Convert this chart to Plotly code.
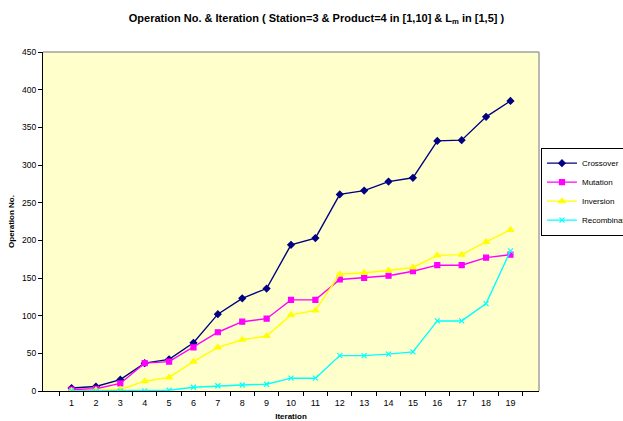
import plotly.graph_objects as go

iterations = [str(i) for i in range(1, 20)]
crossover = [4, 6, 15, 37, 42, 64, 102, 123, 136, 194, 203, 261, 266, 278, 283, 332, 333, 364, 385]
mutation = [2, 3, 10, 37, 39, 58, 78, 92, 96, 121, 121, 148, 150, 153, 159, 167, 167, 177, 181]
inversion = [0, 1, 2, 13, 18, 39, 58, 68, 73, 101, 107, 155, 157, 160, 164, 180, 181, 198, 214]
recombination = [0, 0, 0, 0, 1, 5, 7, 8, 9, 17, 17, 47, 47, 49, 52, 93, 93, 116, 186]

series = [
    ("Crossover", crossover, "#000080", "diamond", 5),
    ("Mutation", mutation, "#FF00FF", "square", 5),
    ("Inversion", inversion, "#FFFF00", "triangle-up", 6),
    ("Recombination", recombination, "#00FFFF", "x-thin", 5),
]

fig = go.Figure()
for name, vals, col, sym, sz in series:
    fig.add_trace(go.Scatter(
        x=iterations, y=vals, name=name, mode="lines+markers",
        line=dict(color=col, width=1.4),
        marker=dict(symbol=sym, size=sz, color=col, line=dict(color=col, width=1.2)),
    ))

fig.update_layout(
    width=623, height=421,
    margin=dict(l=43, r=84, t=52, b=30, autoexpand=False),
    paper_bgcolor="white",
    plot_bgcolor="#FFFFCC",
    font=dict(family="Liberation Sans, Arial, sans-serif", size=8, color="black"),
    title=dict(
        text="<b>Operation No. & Iteration ( Station=3 & Product=4 in [1,10] & L<sub>m</sub> in [1,5] )</b>",
        x=0.508, xanchor="center", y=0.957, yanchor="middle",
        font=dict(size=11, color="black"),
    ),
    showlegend=True,
    legend=dict(
        x=1.004, xanchor="left", y=0.588, yanchor="middle",
        bordercolor="black", borderwidth=1, bgcolor="white",
        font=dict(size=8), tracegroupgap=0, itemwidth=30,
    ),
    xaxis=dict(
        type="category", tickson="boundaries", ticks="outside", ticklen=4,
        tickcolor="black", showline=True, linecolor="black", linewidth=1,
        mirror=False, showgrid=False, zeroline=False,
        title=dict(text="<b>Iteration</b>", font=dict(size=8), standoff=6),
        tickfont=dict(size=9), ticklabelstandoff=3,
    ),
    yaxis=dict(
        range=[0, 450], dtick=50, ticks="outside", ticklen=4, tickcolor="black",
        showline=True, linecolor="black", linewidth=1, showgrid=False,
        zeroline=False,
        title=dict(text="<b>Operation No.</b>", font=dict(size=8), standoff=6),
        tickfont=dict(size=8.5),
    ),
    hovermode=False,
)

# grey border on top and right of the plot area
fig.add_shape(type="line", xref="paper", yref="paper", x0=0, x1=1, y0=1, y1=1,
              line=dict(color="#A0A0A0", width=1.5))
fig.add_shape(type="line", xref="paper", yref="paper", x0=1, x1=1, y0=0, y1=1,
              line=dict(color="#A0A0A0", width=1.5))

fig.write_html("out.html", config={"displayModeBar": False},
               post_script="document.body.style.margin='0';")
